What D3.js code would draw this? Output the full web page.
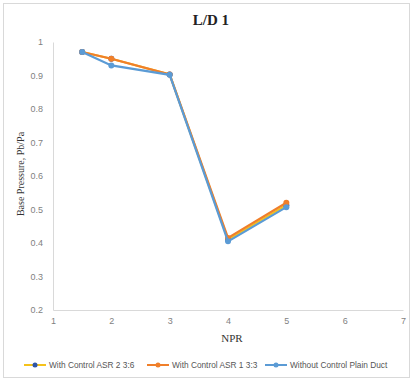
<!DOCTYPE html>
<html><head><meta charset="utf-8">
<script src="https://cdn.jsdelivr.net/npm/d3@7"></script>
<style>body{margin:0;background:#fff}svg{display:block}</style>
</head><body>
<script>
const npr = [1.5, 2, 3, 4, 5];
const asr2 = [0.970, 0.950, 0.903, 0.410, 0.513];
const asr1 = [0.970, 0.950, 0.903, 0.415, 0.520];
const plain = [0.970, 0.930, 0.902, 0.405, 0.507];
const seriesNames = ["With Control ASR 2 3:6", "With Control ASR 1 3:3", "Without Control Plain Duct"];
const xTicks = [1, 2, 3, 4, 5, 6, 7];
const yTicks = [0.2, 0.3, 0.4, 0.5, 0.6, 0.7, 0.8, 0.9, 1];

const series = [
  {name: seriesNames[0], values: asr2, line: "#f5c21b", marker: "#2e55a8"},
  {name: seriesNames[1], values: asr1, line: "#f07f2a", marker: "#f07f2a"},
  {name: seriesNames[2], values: plain, line: "#5b9bd5", marker: "#5b9bd5"}
];

const W = 415, H = 381;
const svg = d3.select("body").append("svg").attr("width", W).attr("height", H);
svg.append("rect").attr("x", 3.5).attr("y", 3.5).attr("width", 406).attr("height", 374)
  .attr("fill", "#fff").attr("stroke", "#d9d9d9");

const x = d3.scaleLinear().domain([1, 7]).range([53, 403]);
const y = d3.scaleLinear().domain([0.2, 1]).range([310, 42]);

svg.append("text").attr("x", 211).attr("y", 25).attr("text-anchor", "middle")
  .attr("font-family", "Liberation Serif").attr("font-weight", "bold").attr("font-size", 15)
  .attr("fill", "#222").text("L/D 1");

const xAxis = svg.append("g").attr("transform", "translate(0,310)")
  .call(d3.axisBottom(x).tickValues(xTicks).tickFormat(d3.format("d")).tickSize(0).tickPadding(8));
const yAxis = svg.append("g").attr("transform", "translate(53,0)")
  .call(d3.axisLeft(y).tickValues(yTicks).tickFormat(d => d === 1 ? "1" : d3.format(".1f")(d)).tickSize(0).tickPadding(10));
[xAxis, yAxis].forEach(g => {
  g.select(".domain").attr("stroke", "#d9d9d9");
  g.selectAll("text").attr("font-family", "Liberation Sans").attr("font-size", 9).attr("fill", "#7f7f7f");
});

svg.append("text").attr("x", 232).attr("y", 342).attr("text-anchor", "middle")
  .attr("font-family", "Liberation Serif").attr("font-size", 11).attr("fill", "#333").text("NPR");
svg.append("text").attr("transform", "translate(24,174) rotate(-90)").attr("text-anchor", "middle")
  .attr("font-family", "Liberation Serif").attr("font-size", 10).attr("fill", "#333").text("Base Pressure, Pb/Pa");

const line = d3.line().x((d, i) => x(npr[i])).y(d => y(d));
series.forEach(s => {
  svg.append("path").datum(s.values).attr("d", line).attr("fill", "none")
    .attr("stroke", s.line).attr("stroke-width", 2.2);
  svg.selectAll(null).data(s.values).enter().append("circle")
    .attr("cx", (d, i) => x(npr[i])).attr("cy", d => y(d)).attr("r", 3)
    .attr("fill", s.marker);
});

// legend
const lg = svg.append("g").attr("font-family", "Liberation Sans").attr("font-size", 8.3).attr("fill", "#555");
const legendX = [24, 147, 265];
series.forEach((s, i) => {
  const g = lg.append("g").attr("transform", `translate(${legendX[i]},365)`);
  g.append("line").attr("x1", 0).attr("x2", 22).attr("stroke", s.line).attr("stroke-width", 2);
  g.append("circle").attr("cx", 11).attr("r", 2.5).attr("fill", s.marker);
  g.append("text").attr("x", 25).attr("dy", "0.35em").attr("fill", "#555").text(s.name);
});
</script>
</body></html>
